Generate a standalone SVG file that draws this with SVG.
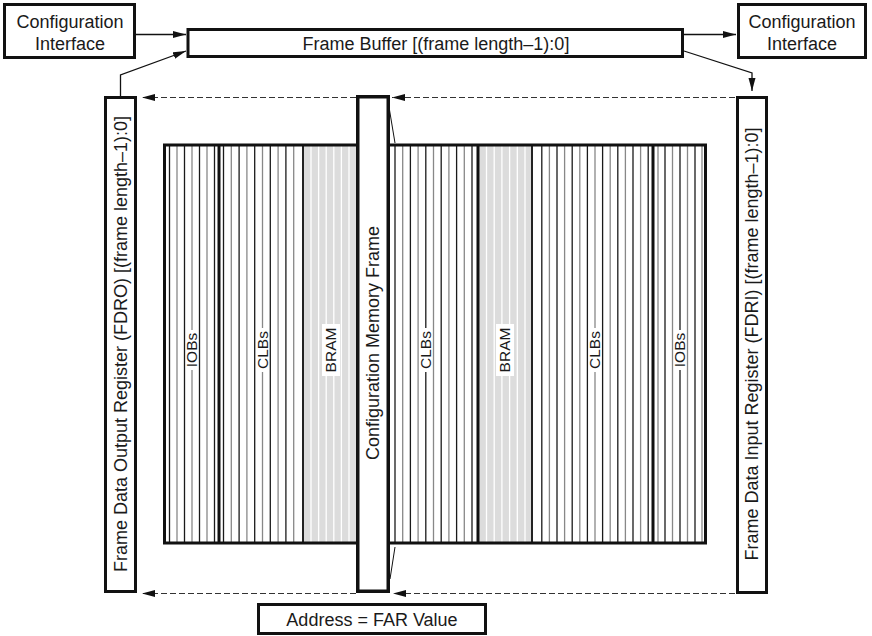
<svg xmlns="http://www.w3.org/2000/svg" width="872" height="636" viewBox="0 0 872 636">
<style>
.box{fill:#fff;stroke:#111;stroke-width:3}
.t{font-family:"Liberation Sans",Arial,sans-serif;font-size:18px;fill:#1a1a1a}
.lb{font-family:"Liberation Sans",Arial,sans-serif;font-size:15.5px;fill:#1a1a1a}
.a{stroke:#1a1a1a;stroke-width:1.3}
.b{stroke:#888;stroke-width:1.3}
.w{stroke:#fff;stroke-width:1.3}
.sep{stroke:#111;stroke-width:3}
.sep2{stroke:#222;stroke-width:2}
.con{fill:none;stroke:#111;stroke-width:1.3}
.dash{fill:none;stroke:#333;stroke-width:1.2;stroke-dasharray:6 3}
.thin{fill:none;stroke:#111;stroke-width:1}
.bram{fill:#dcdcdc}
.lbg{fill:#fff}
</style>
<defs>
<marker id="ah" markerWidth="13" markerHeight="8" refX="13" refY="4" orient="auto" markerUnits="userSpaceOnUse">
<path d="M0,0.5 L13,4 L0,7.5 z" fill="#111"/>
</marker>
</defs>

<g id="config-interface-left">
<rect class="box" x="4.5" y="4.5" width="130" height="53"/>
<text class="t" x="70" y="28" text-anchor="middle">Configuration</text>
<text class="t" x="70" y="50" text-anchor="middle">Interface</text>
</g>

<g id="frame-buffer">
<rect class="box" x="188" y="29.5" width="494.5" height="27"/>
<text class="t" x="436" y="49.5" text-anchor="middle">Frame Buffer [(frame length–1):0]</text>
</g>

<g id="config-interface-right">
<rect class="box" x="738.5" y="4.5" width="127" height="53"/>
<text class="t" x="802" y="28" text-anchor="middle">Configuration</text>
<text class="t" x="802" y="50" text-anchor="middle">Interface</text>
</g>

<g id="fdro">
<rect class="box" x="105.5" y="97.5" width="30" height="494"/>
<text class="t" transform="translate(120.5,344) rotate(-90)" text-anchor="middle" dy="0.35em">Frame Data Output Register (FDRO) [(frame length–1):0]</text>
</g>

<g id="fdri">
<rect class="box" x="737.5" y="97.5" width="29" height="495"/>
<text class="t" transform="translate(752,344) rotate(-90)" text-anchor="middle" dy="0.35em">Frame Data Input Register (FDRI) [(frame length–1):0]</text>
</g>

<g id="memory-array">
<rect x="163" y="144" width="544" height="400" fill="#fff"/>
<rect class="bram" x="303" y="145" width="53" height="398"/>
<rect class="bram" x="478" y="145" width="54" height="398"/>
<g id="iobs-left">
<line class="a" x1="169.5" y1="145" x2="169.5" y2="543"/>
<line class="b" x1="177" y1="145" x2="177" y2="543"/>
<line class="a" x1="184.5" y1="145" x2="184.5" y2="543"/>
<line class="b" x1="192" y1="145" x2="192" y2="543"/>
<line class="a" x1="199.5" y1="145" x2="199.5" y2="543"/>
<line class="b" x1="207" y1="145" x2="207" y2="543"/>
<line class="a" x1="214.5" y1="145" x2="214.5" y2="543"/>
</g>
<g id="clbs-left">
<line class="a" x1="223.5" y1="145" x2="223.5" y2="543"/>
<line class="b" x1="231.3" y1="145" x2="231.3" y2="543"/>
<line class="a" x1="239.1" y1="145" x2="239.1" y2="543"/>
<line class="b" x1="246.9" y1="145" x2="246.9" y2="543"/>
<line class="a" x1="254.7" y1="145" x2="254.7" y2="543"/>
<line class="b" x1="262.5" y1="145" x2="262.5" y2="543"/>
<line class="a" x1="270.3" y1="145" x2="270.3" y2="543"/>
<line class="b" x1="278.1" y1="145" x2="278.1" y2="543"/>
<line class="a" x1="285.9" y1="145" x2="285.9" y2="543"/>
<line class="b" x1="293.7" y1="145" x2="293.7" y2="543"/>
</g>
<g id="bram-left">
<line class="w" x1="311" y1="145" x2="311" y2="543"/>
<line class="w" x1="318.6" y1="145" x2="318.6" y2="543"/>
<line class="w" x1="326.2" y1="145" x2="326.2" y2="543"/>
<line class="w" x1="333.8" y1="145" x2="333.8" y2="543"/>
<line class="w" x1="341.4" y1="145" x2="341.4" y2="543"/>
<line class="w" x1="349" y1="145" x2="349" y2="543"/>
</g>
<g id="clbs-mid">
<line class="a" x1="395" y1="145" x2="395" y2="543"/>
<line class="b" x1="402.7" y1="145" x2="402.7" y2="543"/>
<line class="a" x1="410.4" y1="145" x2="410.4" y2="543"/>
<line class="b" x1="418.1" y1="145" x2="418.1" y2="543"/>
<line class="a" x1="425.8" y1="145" x2="425.8" y2="543"/>
<line class="b" x1="433.5" y1="145" x2="433.5" y2="543"/>
<line class="a" x1="441.2" y1="145" x2="441.2" y2="543"/>
<line class="b" x1="448.9" y1="145" x2="448.9" y2="543"/>
<line class="a" x1="456.6" y1="145" x2="456.6" y2="543"/>
<line class="b" x1="464.3" y1="145" x2="464.3" y2="543"/>
<line class="a" x1="472" y1="145" x2="472" y2="543"/>
</g>
<g id="bram-right">
<line class="w" x1="486.5" y1="145" x2="486.5" y2="543"/>
<line class="w" x1="494.2" y1="145" x2="494.2" y2="543"/>
<line class="w" x1="501.9" y1="145" x2="501.9" y2="543"/>
<line class="w" x1="509.6" y1="145" x2="509.6" y2="543"/>
<line class="w" x1="517.3" y1="145" x2="517.3" y2="543"/>
<line class="w" x1="525" y1="145" x2="525" y2="543"/>
</g>
<g id="clbs-right">
<line class="a" x1="541.8" y1="145" x2="541.8" y2="543"/>
<line class="b" x1="549.4" y1="145" x2="549.4" y2="543"/>
<line class="a" x1="557" y1="145" x2="557" y2="543"/>
<line class="b" x1="564.6" y1="145" x2="564.6" y2="543"/>
<line class="a" x1="572.2" y1="145" x2="572.2" y2="543"/>
<line class="b" x1="579.8" y1="145" x2="579.8" y2="543"/>
<line class="a" x1="587.4" y1="145" x2="587.4" y2="543"/>
<line class="b" x1="595" y1="145" x2="595" y2="543"/>
<line class="a" x1="602.6" y1="145" x2="602.6" y2="543"/>
<line class="b" x1="610.2" y1="145" x2="610.2" y2="543"/>
<line class="a" x1="617.8" y1="145" x2="617.8" y2="543"/>
<line class="b" x1="625.4" y1="145" x2="625.4" y2="543"/>
<line class="a" x1="633" y1="145" x2="633" y2="543"/>
<line class="b" x1="640.6" y1="145" x2="640.6" y2="543"/>
<line class="a" x1="648.2" y1="145" x2="648.2" y2="543"/>
</g>
<g id="iobs-right">
<line class="b" x1="658" y1="145" x2="658" y2="543"/>
<line class="a" x1="665" y1="145" x2="665" y2="543"/>
<line class="b" x1="672.5" y1="145" x2="672.5" y2="543"/>
<line class="a" x1="680" y1="145" x2="680" y2="543"/>
<line class="b" x1="687.5" y1="145" x2="687.5" y2="543"/>
<line class="a" x1="695" y1="145" x2="695" y2="543"/>
<line class="b" x1="702" y1="145" x2="702" y2="543"/>
</g>
<line class="sep" x1="219" y1="145" x2="219" y2="543"/>
<line class="sep2" x1="303" y1="145" x2="303" y2="543"/>
<line class="sep" x1="478" y1="145" x2="478" y2="543"/>
<line class="sep2" x1="532" y1="145" x2="532" y2="543"/>
<line class="sep" x1="653" y1="145" x2="653" y2="543"/>
<rect x="164.5" y="145" width="541" height="398" fill="none" stroke="#111" stroke-width="3"/>
<g id="labels">
<rect class="lbg" x="186" y="330" width="12" height="40"/>
<text class="lb" transform="translate(192,350) rotate(-90)" text-anchor="middle" dy="0.35em">IOBs</text>
<rect class="lbg" x="256.5" y="328" width="12" height="44"/>
<text class="lb" transform="translate(262.5,350) rotate(-90)" text-anchor="middle" dy="0.35em">CLBs</text>
<rect class="lbg" x="322" y="324" width="18" height="52"/>
<text class="lb" transform="translate(331,350) rotate(-90)" text-anchor="middle" dy="0.35em">BRAM</text>
<rect class="lbg" x="419.8" y="328" width="12" height="44"/>
<text class="lb" transform="translate(425.8,350) rotate(-90)" text-anchor="middle" dy="0.35em">CLBs</text>
<rect class="lbg" x="496" y="324" width="18" height="52"/>
<text class="lb" transform="translate(505,350) rotate(-90)" text-anchor="middle" dy="0.35em">BRAM</text>
<rect class="lbg" x="589" y="328" width="12" height="44"/>
<text class="lb" transform="translate(595,350) rotate(-90)" text-anchor="middle" dy="0.35em">CLBs</text>
<rect class="lbg" x="674" y="330" width="12" height="40"/>
<text class="lb" transform="translate(680,350) rotate(-90)" text-anchor="middle" dy="0.35em">IOBs</text>
</g>
</g>

<g id="configuration-memory-frame">
<rect x="357.75" y="96.75" width="30.5" height="494.5" fill="#fff" stroke="#111" stroke-width="3.5"/>
<text class="t" transform="translate(373,343) rotate(-90)" text-anchor="middle" dy="0.35em">Configuration Memory Frame</text>
<path class="thin" d="M389,107 L395,143 M395,547 L390,579"/>
</g>

<g id="address">
<rect class="box" x="258.5" y="604.5" width="227" height="29"/>
<text class="t" x="372" y="626" text-anchor="middle">Address = FAR Value</text>
</g>

<g id="connectors">
<path class="con" d="M136,34.5 H186" marker-end="url(#ah)"/>
<path class="con" d="M120.5,96 V75 L186,51" marker-end="url(#ah)"/>
<path class="con" d="M684,34.5 H736" marker-end="url(#ah)"/>
<path class="con" d="M684,51 L752,73 V91" marker-end="url(#ah)"/>
<path class="dash" d="M356,97.5 H142" marker-end="url(#ah)"/>
<path class="dash" d="M735,97.5 H392" marker-end="url(#ah)"/>
<path class="dash" d="M356,593.5 H142" marker-end="url(#ah)"/>
<path class="dash" d="M735,593.5 H393" marker-end="url(#ah)"/>
</g>
</svg>
